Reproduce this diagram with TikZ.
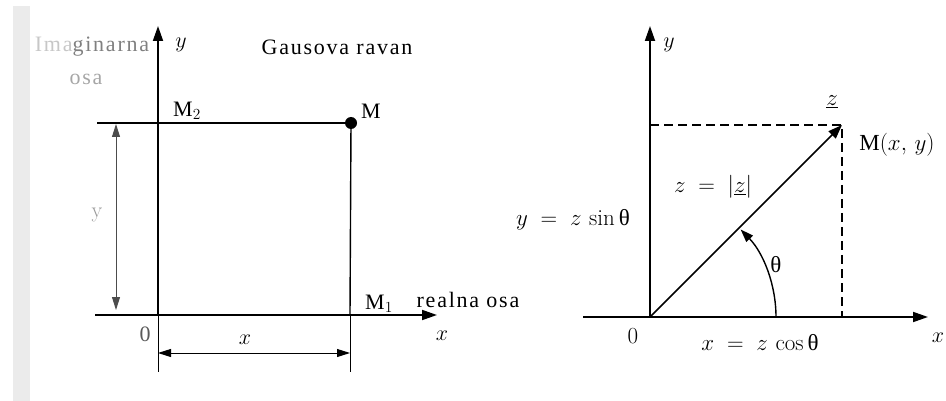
\RequirePackage{fix-cm}
\documentclass[tikz,border=0pt]{standalone}
\usepackage{fontspec}
\newfontfamily\grk{Liberation Serif}
\newfontfamily\spc{Liberation Serif}[LetterSpace=8]
\usetikzlibrary{arrows.meta}
\tikzset{
 axis/.style={line width=1.8pt, -{Triangle[length=15pt,width=10pt]}},
 thinl/.style={line width=0.9pt},
 medl/.style={line width=1.4pt},
 dimline/.style={line width=0.9pt, {Triangle[length=13pt,width=8pt]}-{Triangle[length=13pt,width=8pt]}},
 dashline/.style={line width=1.8pt, dash pattern=on 9pt off 5pt},
 vec/.style={line width=1.6pt, -{Triangle[length=14pt,width=10pt]}},
 lbl/.style={font=\spc\fontsize{22}{22}\selectfont, inner sep=0pt},
 rl/.style={font=\fontsize{23}{23}\selectfont, inner sep=0pt},
 ml/.style={font=\fontsize{22}{22}\selectfont, inner sep=0pt},
}
\begin{document}
\begin{tikzpicture}[x=1pt,y=-1pt]
\useasboundingbox (0,0) rectangle (946,401);
\fill[black!8] (13,6) rectangle (30,401);
% ---------- left diagram ----------
\coordinate (O1) at (158,315);
\coordinate (XL) at (95,315);
\coordinate (XR) at (437,315);
\coordinate (YT) at (158,26);
\coordinate (YB) at (158,372);
\coordinate (M2L) at (97,123);
\node[circle,fill,inner sep=0pt,minimum size=12pt] (M) at (351,123) {};
\coordinate (M1) at (350,315);
\coordinate (MB) at (350,372);
\draw[axis] (XL) -- (XR);
\draw[axis] (O1) -- (YT);
\draw[thinl] (O1) -- (YB);
\draw[medl] (M2L) -- (M.center);
\draw[medl] (M.center) -- (M1);
\draw[thinl] (M1) -- (MB);
\coordinate (DyT) at (116,124);
\coordinate (DyB) at (116,310);
\draw[dimline, black!70] (DyB) -- (DyT);
\coordinate (DxL) at (158,353);
\coordinate (DxR) at (350,353);
\draw[dimline] (DxL) -- (DxR);
\node[ml] (ly1) at (181,45) {$y$};
\node[lbl] (im) at (92,47) {{\color{black!22}Ima}{\color{black!50}ginarna}};
\node[lbl, text=black!35] (osa) at (86,79) {osa};
\node[lbl] (gr) at (337,47) {Gausova ravan};
\node[lbl] (lm2) at (187,111) {M$_2$};
\node[lbl] (lm) at (371,111) {M};
\node[lbl] (lm1) at (379,304) {M$_1$};
\node[lbl] (ro) at (468,300) {realna osa};
\node[ml] (lx1) at (442,336) {$x$};
\node[lbl, text=black!65] (o1) at (145,334) {0};
\node[ml] (dx) at (245,340) {$x$};
\node[ml, text=black!40] (dy) at (97,215) {y};
% ---------- right diagram ----------
\coordinate (O2) at (650,317);
\coordinate (X2L) at (583,317);
\coordinate (X2R) at (928,317);
\coordinate (Y2T) at (650,26);
\coordinate (P) at (842,125);
\coordinate (PY) at (650,125);
\coordinate (PX) at (842,317);
\draw[axis] (X2L) -- (X2R);
\draw[axis] (O2) -- (Y2T);
\draw[dashline] (PY) -- (P) -- (PX);
\draw[vec] (O2) -- (P);
\draw[line width=1.4pt, -{Triangle[length=13pt,width=9pt]}] ([shift={(0:126)}]O2) arc[start angle=0,end angle=-44,radius=126];
\node[ml] (ly2) at (669,45) {$y$};
\node[rl] (lz) at (832,102) {$\underline{z}$};
\node[rl] (lM) at (897,145) {{\grk M}$(x,\,y)$};
\node[rl] (zz) at (713,187) {$z\;=\;\bigl|\underline{z}\bigr|$};
\node[rl] (ys) at (573,220) {$y\;=\;z\,\sin\,${\grk θ}};
\node[rl] (th) at (776,265) {{\grk θ}};
\node[rl] (o2) at (633,336) {0};
\node[rl] (xc) at (760,343) {$x\;=\;z\,\cos\,${\grk θ}};
\node[ml] (lx2) at (938,338) {$x$};
\end{tikzpicture}
\end{document}
